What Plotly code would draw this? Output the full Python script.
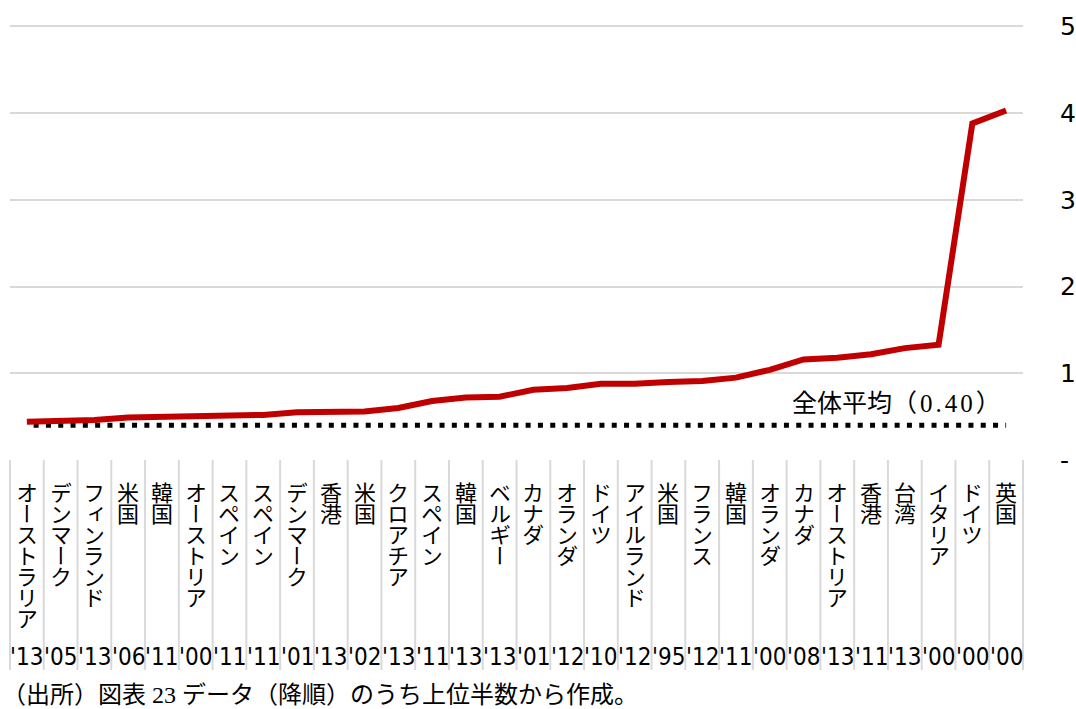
import plotly.graph_objects as go

# ---- data ----
countries = ["オーストラリア", "デンマーク", "フィンランド", "米国", "韓国", "オーストリア",
             "スペイン", "スペイン", "デンマーク", "香港", "米国", "クロアチア", "スペイン",
             "韓国", "ベルギー", "カナダ", "オランダ", "ドイツ", "アイルランド", "米国",
             "フランス", "韓国", "オランダ", "カナダ", "オーストリア", "香港", "台湾",
             "イタリア", "ドイツ", "英国"]
years = ["'13", "'05", "'13", "'06", "'11", "'00", "'11", "'11", "'01", "'13", "'02",
         "'13", "'11", "'13", "'13", "'01", "'12", "'10", "'12", "'95", "'12", "'11",
         "'00", "'08", "'13", "'11", "'13", "'00", "'00", "'00"]
values = [0.44, 0.45, 0.46, 0.49, 0.50, 0.51, 0.52, 0.52, 0.55, 0.56, 0.56, 0.60,
          0.68, 0.72, 0.73, 0.81, 0.83, 0.88, 0.88, 0.90, 0.91, 0.95, 1.04, 1.16,
          1.18, 1.22, 1.29, 1.33, 3.88, 4.03]
avg_value = 0.40
y_tickvals = [0, 1, 2, 3, 4, 5]
y_ticktext = ["-", "1", "2", "3", "4", "5"]
caption = "（出所）図表 23 データ（降順）のうち上位半数から作成。"

# ---- style ----
W, H = 1076, 709
ML, MR, MT, MB = 10, 53, 9, 249
plot_h = H - MT - MB
GRID = "#d9d9d9"
RED = "#c00000"
CJK = "Noto Sans CJK JP"
LAT = "DejaVu Sans"
SERIF = "Liberation Serif, Noto Sans CJK JP"
TABLE_PX = 210          # height of the category table below the plot
LINE_FONT = 16.2        # sets the line pitch (1.3 x font size)
CHAR_STYLE = "font-size:22px;font-feature-settings:'vert' 1"
YEAR_OFF = 197

n = len(countries)
x_idx = list(range(n))


def vertical_text(name):
    return "<br>".join(f'<span style="{CHAR_STYLE}">{ch}</span>' for ch in name)


fig = go.Figure()
fig.add_trace(go.Scatter(
    x=x_idx, y=values, mode="lines",
    line=dict(color=RED, width=6),
    hoverinfo="skip", showlegend=False,
))

shapes = []
# average dotted line
shapes.append(dict(type="line", xref="x", yref="y", x0=0.2, x1=n - 1,
                   y0=avg_value, y1=avg_value, layer="below",
                   line=dict(color="#000", width=5, dash="5px,7.3px")))
# table separators
for j in range(n + 1):
    shapes.append(dict(type="line", xref="paper", yref="paper",
                       x0=j / n, x1=j / n, y0=0, y1=-TABLE_PX / plot_h,
                       line=dict(color=GRID, width=2)))

annotations = []
for i, (name, yr) in enumerate(zip(countries, years)):
    annotations.append(dict(x=i, xref="x", y=0, yref="paper", text=vertical_text(name),
                            showarrow=False, xanchor="center", yanchor="top",
                            align="center", yshift=-14, borderpad=0,
                            font=dict(family=CJK, size=LINE_FONT, color="#000")))
    annotations.append(dict(x=i, xref="x", y=0, yref="paper", text=yr, showarrow=False,
                            xanchor="center", yanchor="middle", yshift=-YEAR_OFF,
                            font=dict(family="DejaVu Sans Condensed, " + LAT, size=24,
                                      color="#000")))

annotations.append(dict(x=(790 - ML) / (W - ML - MR), xref="paper", y=avg_value, yref="y",
                        text=("全体平均<span style=\"letter-spacing:3px\">（"
                              f"{avg_value:.2f}）</span>"),
                        showarrow=False,
                        xanchor="left", yanchor="middle", yshift=22,
                        font=dict(family=SERIF, size=25, color="#000")))
annotations.append(dict(x=0, xref="paper", xshift=-ML, y=0, yref="paper",
                        yshift=-235, text=caption, showarrow=False,
                        xanchor="left", yanchor="middle",
                        font=dict(family=SERIF, size=24, color="#000")))

fig.update_layout(
    width=W, height=H, autosize=False,
    margin=dict(l=ML, r=MR, t=MT, b=MB, pad=0, autoexpand=False),
    paper_bgcolor="white", plot_bgcolor="white",
    shapes=shapes, annotations=annotations,
    showlegend=False,
)
fig.update_xaxes(range=[-0.5, n - 0.5], showticklabels=False, showgrid=False,
                 zeroline=False, showline=False, ticks="", fixedrange=True,
                 automargin=False)
fig.update_yaxes(side="right", range=[0, 5.2], tickvals=y_tickvals, ticktext=y_ticktext,
                 showgrid=True, gridcolor=GRID, gridwidth=2, zeroline=False,
                 showline=False, ticks="", ticklabelstandoff=36, automargin=False,
                 tickfont=dict(family=LAT, size=25, color="#000"), fixedrange=True)

fig.write_html("out.html", config={"displayModeBar": False})
